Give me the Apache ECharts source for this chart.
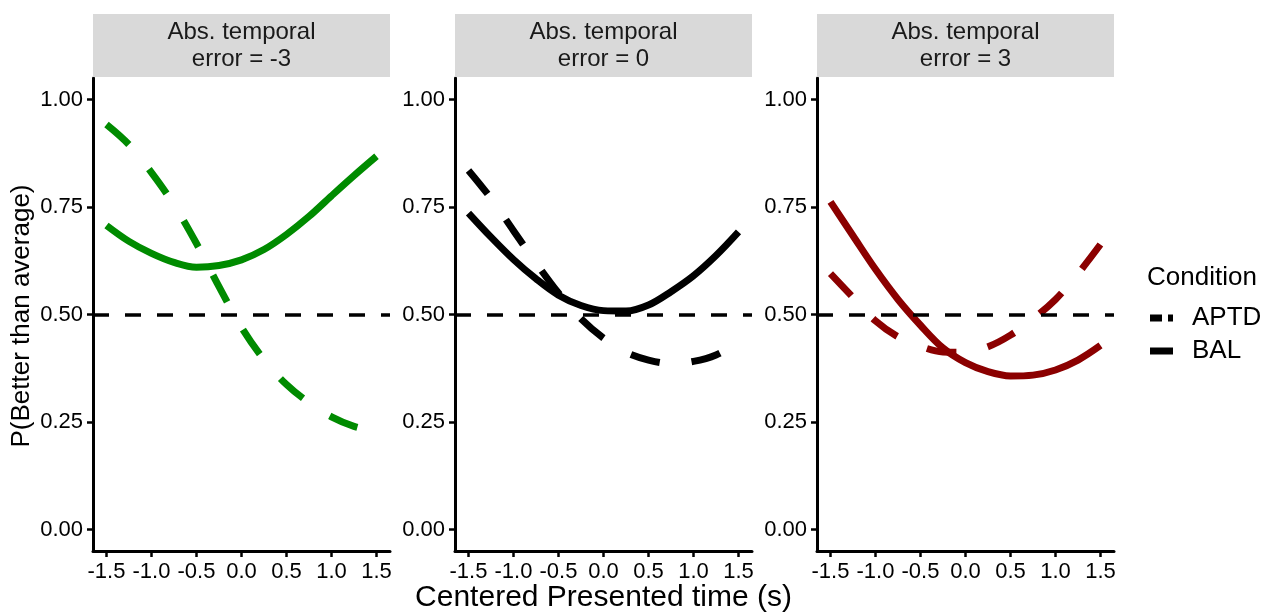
<!DOCTYPE html>
<html>
<head>
<meta charset="utf-8">
<script src="https://cdn.jsdelivr.net/npm/echarts@6/dist/echarts.min.js"></script>
<style>
html,body{margin:0;padding:0;background:#fff;}
#chart{width:1271px;height:615px;}
</style>
</head>
<body>
<div id="chart"></div>
<script>
// ---- data ----
const timeValues = [-1.5, -1.25, -1.0, -0.75, -0.5, -0.25, 0, 0.25, 0.5, 0.75, 1.0, 1.25, 1.5];
const panelTitles = ['Abs. temporal\nerror = -3', 'Abs. temporal\nerror = 0', 'Abs. temporal\nerror = 3'];
const panelColors = ['#008B00', '#000000', '#8B0000'];
const aptdErrM3 = [0.942, 0.895, 0.830, 0.755, 0.665, 0.565, 0.470, 0.395, 0.337, 0.295, 0.262, 0.240, 0.228];
const balErrM3  = [0.707, 0.670, 0.642, 0.621, 0.610, 0.614, 0.627, 0.651, 0.686, 0.728, 0.776, 0.823, 0.868];
const aptdErr0  = [0.835, 0.770, 0.695, 0.620, 0.550, 0.490, 0.445, 0.412, 0.394, 0.386, 0.391, 0.406, 0.436];
const balErr0   = [0.736, 0.680, 0.628, 0.583, 0.545, 0.521, 0.509, 0.508, 0.522, 0.553, 0.590, 0.637, 0.692];
const aptdErr3  = [0.595, 0.540, 0.485, 0.448, 0.426, 0.413, 0.412, 0.425, 0.452, 0.490, 0.535, 0.595, 0.663];
const balErr3   = [0.762, 0.683, 0.605, 0.535, 0.475, 0.422, 0.388, 0.367, 0.357, 0.359, 0.371, 0.394, 0.428];
const xTicks = [-1.5, -1.0, -0.5, 0.0, 0.5, 1.0, 1.5];
const yTicks = [0, 0.25, 0.5, 0.75, 1.0];
const referenceLevel = 0.5;
const legendNames = ['APTD', 'BAL'];

const aptdSets = [aptdErrM3, aptdErr0, aptdErr3];
const balSets = [balErrM3, balErr0, balErr3];

// ---- layout ----
const FONT = '"Liberation Sans", Arial, Helvetica, sans-serif';
const gridLeft0 = 93, gridStep = 362, gridW = 297, gridTop = 78, gridH = 473;

const grids = [], xAxes = [], yAxes = [], series = [], graphics = [];
for (let i = 0; i < 3; i++) {
  const left = gridLeft0 + gridStep * i;
  grids.push({left: left, top: gridTop, width: gridW, height: gridH, containLabel: false});
  xAxes.push({
    type: 'value', gridIndex: i, min: -1.65, max: 1.65,
    axisLine: {show: true, onZero: false, lineStyle: {color: '#000', width: 3}},
    axisTick: {show: true, length: 6, customValues: xTicks, lineStyle: {color: '#000', width: 2.5}},
    axisLabel: {show: true, customValues: xTicks, margin: 10, color: '#000', fontSize: 22, fontFamily: FONT,
      formatter: v => v.toFixed(1)},
    splitLine: {show: false}
  });
  yAxes.push({
    type: 'value', gridIndex: i, min: -0.05, max: 1.05,
    axisLine: {show: true, onZero: false, lineStyle: {color: '#000', width: 3}},
    axisTick: {show: true, length: 6, customValues: yTicks, lineStyle: {color: '#000', width: 2.5}},
    axisLabel: {show: true, customValues: yTicks, margin: 10, color: '#000', fontSize: 22, fontFamily: FONT,
      formatter: v => v.toFixed(2)},
    splitLine: {show: false}
  });
  series.push({
    name: legendNames[0], type: 'line', xAxisIndex: i, yAxisIndex: i,
    data: timeValues.map((x, k) => [x, aptdSets[i][k]]),
    smooth: 0.35, showSymbol: false, symbol: 'none',
    lineStyle: {color: panelColors[i], width: 7, type: [30, 32], cap: 'butt', join: 'round'},
    z: 2
  });
  series.push({
    name: legendNames[1], type: 'line', xAxisIndex: i, yAxisIndex: i,
    data: timeValues.map((x, k) => [x, balSets[i][k]]),
    smooth: 0.35, showSymbol: false, symbol: 'none',
    lineStyle: {color: panelColors[i], width: 7, type: 'solid', cap: 'butt', join: 'round'},
    z: 2,
    markLine: {
      silent: true, symbol: ['none', 'none'], label: {show: false},
      lineStyle: {color: '#000', width: 3.5, type: [16, 16]},
      data: [{yAxis: referenceLevel}],
      z: 5
    }
  });
  // strip
  graphics.push({
    type: 'rect', left: left, top: 14, shape: {width: gridW, height: 63},
    style: {fill: '#D9D9D9'}, z: 1
  });
  graphics.push({
    type: 'text', x: left + gridW / 2, y: 46,
    style: {text: panelTitles[i], fill: '#1A1A1A', font: '24px ' + FONT, align: 'center', verticalAlign: 'middle', lineHeight: 27},
    z: 2
  });
}

// axis titles
graphics.push({
  type: 'text', x: gridLeft0 + gridStep + gridW / 2, y: 598,
  style: {text: 'Centered Presented time (s)', fill: '#000', font: '30px ' + FONT, align: 'center', verticalAlign: 'middle'}
});
graphics.push({
  type: 'text', x: 22, y: 316, rotation: Math.PI / 2,
  style: {text: 'P(Better than average)', fill: '#000', font: '26px ' + FONT, align: 'center', verticalAlign: 'middle'}
});

// legend
graphics.push({
  type: 'text', x: 1147, y: 278,
  style: {text: 'Condition', fill: '#000', font: '26px ' + FONT, align: 'left', verticalAlign: 'middle'}
});
graphics.push({
  type: 'line', shape: {x1: 1150, y1: 318, x2: 1173, y2: 318},
  style: {stroke: '#000', lineWidth: 7, lineDash: [12, 6], lineCap: 'butt'}
});
graphics.push({
  type: 'text', x: 1192, y: 318,
  style: {text: legendNames[0], fill: '#000', font: '26px ' + FONT, align: 'left', verticalAlign: 'middle'}
});
graphics.push({
  type: 'line', shape: {x1: 1150, y1: 351, x2: 1173, y2: 351},
  style: {stroke: '#000', lineWidth: 7, lineCap: 'butt'}
});
graphics.push({
  type: 'text', x: 1192, y: 351,
  style: {text: legendNames[1], fill: '#000', font: '26px ' + FONT, align: 'left', verticalAlign: 'middle'}
});

const chart = echarts.init(document.getElementById('chart'), null, {renderer: 'canvas'});
chart.setOption({
  animation: false,
  backgroundColor: '#fff',
  grid: grids,
  xAxis: xAxes,
  yAxis: yAxes,
  series: series,
  graphic: graphics
});
</script>
</body>
</html>
